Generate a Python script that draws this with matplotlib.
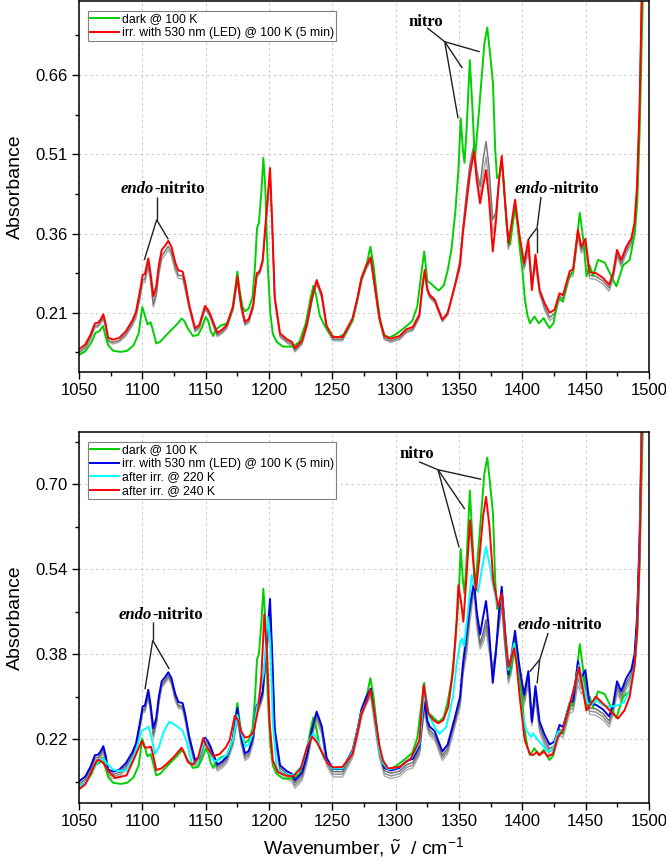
import matplotlib
matplotlib.use('Agg')
import matplotlib.pyplot as plt
from matplotlib.ticker import MultipleLocator, FixedLocator

plt.rcParams['font.family'] = ['Liberation Sans', 'DejaVu Sans']
plt.rcParams['mathtext.fontset'] = 'custom'
plt.rcParams['mathtext.rm'] = 'Liberation Sans'
plt.rcParams['mathtext.it'] = 'Liberation Sans:italic'

# ---------------- data ----------------
# dark @ 100 K (same in both panels)
x_dark = [1050, 1055, 1060, 1063, 1066, 1069, 1071, 1073, 1077, 1083, 1088, 1093, 1097, 1100, 1102,
          1104, 1106.5, 1108, 1111, 1114, 1119, 1124, 1128, 1131, 1133, 1136, 1140, 1144, 1147, 1150,
          1152, 1154, 1156, 1158, 1162, 1167, 1171, 1173, 1175, 1177, 1179, 1181, 1184, 1187, 1189,
          1190.5, 1192, 1194, 1195.5, 1197, 1199, 1201, 1203, 1206, 1211, 1219, 1224, 1229, 1233, 1235,
          1237, 1240, 1244, 1249, 1254, 1260, 1266, 1270, 1273, 1277, 1280, 1282.5, 1285, 1288, 1291,
          1295, 1300, 1306, 1313, 1317, 1320, 1322.5, 1325, 1328, 1331, 1334, 1338, 1341, 1344, 1347,
          1349.5, 1351.3, 1353, 1354.3, 1356, 1358.5, 1360.5, 1362.5, 1365, 1368, 1370, 1372.3, 1374.5,
          1376.8, 1378.5, 1380, 1382, 1383.7, 1385.5, 1387.6, 1390.3, 1392.5, 1394.2, 1396, 1398, 1400,
          1402, 1404, 1406, 1409.5, 1413, 1416.8, 1419, 1421.5, 1424.5, 1428, 1430, 1432, 1436, 1440,
          1443, 1445.3, 1448, 1450.6, 1453, 1455.8, 1459.7, 1465, 1469, 1472, 1474.2, 1479.5, 1484.7,
          1488.7, 1490.7, 1492.5, 1494, 1495.5]
y_dark = [0.130, 0.137, 0.155, 0.172, 0.175, 0.185, 0.165, 0.149, 0.138, 0.136, 0.138, 0.148, 0.170, 0.221, 0.205,
          0.188, 0.192, 0.180, 0.152, 0.155, 0.168, 0.180, 0.190, 0.199, 0.195, 0.180, 0.166, 0.168, 0.182, 0.202,
          0.195, 0.175, 0.166, 0.178, 0.186, 0.190, 0.215, 0.250, 0.288, 0.250, 0.222, 0.213, 0.218, 0.240, 0.300,
          0.370, 0.380, 0.440, 0.503, 0.450, 0.300, 0.210, 0.170, 0.155, 0.146, 0.146, 0.155, 0.190, 0.240, 0.261,
          0.245, 0.205, 0.185, 0.167, 0.163, 0.170, 0.197, 0.240, 0.276, 0.300, 0.335, 0.300, 0.245, 0.190, 0.168,
          0.163, 0.169, 0.180, 0.194, 0.222, 0.280, 0.326, 0.270, 0.265, 0.258, 0.252, 0.262, 0.290, 0.330, 0.400,
          0.480, 0.578, 0.520, 0.494, 0.560, 0.688, 0.600, 0.500, 0.570, 0.660, 0.720, 0.750, 0.700,
          0.644, 0.520, 0.465, 0.470, 0.499, 0.450, 0.373, 0.339, 0.380, 0.411, 0.380, 0.330, 0.290,
          0.235, 0.205, 0.190, 0.203, 0.190, 0.200, 0.190, 0.181, 0.190, 0.235, 0.236, 0.231, 0.272, 0.290,
          0.350, 0.399, 0.350, 0.279, 0.300, 0.280, 0.310, 0.305, 0.285, 0.270, 0.260, 0.300, 0.310,
          0.360, 0.420, 0.550, 0.700, 0.850]

# irr. with 530 nm (LED) @ 100 K (5 min) -- red in top panel, blue in bottom panel
x_irr = [1050, 1055, 1059, 1062.6, 1065, 1067, 1069.2, 1071, 1073, 1077,
         1082, 1087, 1092, 1095, 1098, 1100.3, 1102, 1104.7, 1106.5, 1108.7,
         1111, 1113, 1115.3, 1118, 1120.5, 1123, 1126, 1128.5, 1131.8, 1134,
         1137, 1141.6, 1145, 1149.5, 1152, 1154, 1156, 1159.2, 1163, 1166.6,
         1171.6, 1175, 1178, 1181, 1184, 1187.5, 1190.3, 1192.5, 1195, 1198.2,
         1200.8, 1202.5, 1204.5, 1208.7, 1214, 1218, 1220.5, 1226, 1230, 1234,
         1237.6, 1241.6, 1245.5, 1250.5, 1258, 1266, 1270, 1273, 1276.8, 1280.3,
         1283, 1287, 1291, 1296, 1303, 1308.5, 1313.5, 1318.7, 1321, 1322.9,
         1325, 1326.8, 1330.8, 1336.8, 1341, 1346.6, 1350.8, 1353, 1356, 1358.5,
         1361.8, 1364, 1366.6, 1369, 1371.3, 1373.5, 1376.6, 1379, 1381.5, 1383.7,
         1386, 1389, 1391.5, 1394.2, 1397.5, 1401.3, 1404.7, 1407.5, 1410.3, 1413.6,
         1417.6, 1421.5, 1425.4, 1429.3, 1432, 1437.4, 1440, 1443.9, 1446.5, 1449.7,
         1453, 1458, 1463.7, 1468.4, 1471.6, 1474.7, 1478, 1482, 1486, 1488.5,
         1490.5, 1492.5, 1494.5]
y_irr = [0.141, 0.150, 0.168, 0.190, 0.191, 0.197, 0.207, 0.190, 0.163, 0.159,
         0.163, 0.175, 0.195, 0.212, 0.250, 0.282, 0.283, 0.313, 0.285, 0.241,
         0.260, 0.300, 0.329, 0.337, 0.346, 0.335, 0.305, 0.290, 0.288, 0.265,
         0.225, 0.181, 0.187, 0.223, 0.215, 0.205, 0.192, 0.172, 0.178, 0.187,
         0.222, 0.279, 0.225, 0.193, 0.198, 0.225, 0.285, 0.288, 0.310, 0.405,
         0.484, 0.380, 0.240, 0.171, 0.160, 0.155, 0.143, 0.157, 0.190, 0.240,
         0.272, 0.245, 0.185, 0.164, 0.164, 0.200, 0.240, 0.276, 0.300, 0.315,
         0.270, 0.203, 0.166, 0.161, 0.166, 0.179, 0.183, 0.207, 0.260, 0.291,
         0.255, 0.244, 0.235, 0.197, 0.210, 0.260, 0.300, 0.360, 0.420, 0.470,
         0.515, 0.460, 0.417, 0.450, 0.480, 0.430, 0.326, 0.380, 0.460, 0.507,
         0.430, 0.342, 0.380, 0.424, 0.360, 0.304, 0.348, 0.253, 0.320, 0.253,
         0.228, 0.210, 0.216, 0.247, 0.243, 0.289, 0.292, 0.367, 0.335, 0.350,
         0.287, 0.285, 0.276, 0.263, 0.285, 0.329, 0.310, 0.335, 0.351, 0.380,
         0.450, 0.600, 0.850]

# top panel: intermediate irradiation steps (gray), on x_irr
y_top_gray1 = [0.136, 0.145, 0.163, 0.185, 0.186, 0.192, 0.202, 0.185, 0.158, 0.154,
               0.158, 0.170, 0.189, 0.205, 0.240, 0.272, 0.274, 0.302, 0.275, 0.226,
               0.247, 0.288, 0.318, 0.327, 0.336, 0.325, 0.296, 0.281, 0.280, 0.257,
               0.221, 0.177, 0.183, 0.219, 0.211, 0.201, 0.188, 0.168, 0.174, 0.183,
               0.218, 0.275, 0.221, 0.189, 0.194, 0.221, 0.281, 0.286, 0.306, 0.400,
               0.478, 0.376, 0.236, 0.167, 0.156, 0.151, 0.139, 0.153, 0.186, 0.236,
               0.268, 0.241, 0.181, 0.160, 0.160, 0.196, 0.236, 0.272, 0.296, 0.311,
               0.266, 0.199, 0.162, 0.157, 0.162, 0.175, 0.179, 0.203, 0.256, 0.287,
               0.252, 0.241, 0.232, 0.196, 0.208, 0.262, 0.310, 0.370, 0.440, 0.490,
               0.528, 0.480, 0.449, 0.500, 0.534, 0.490, 0.386, 0.400, 0.460, 0.500,
               0.430, 0.335, 0.370, 0.415, 0.354, 0.298, 0.335, 0.262, 0.308, 0.250,
               0.221, 0.201, 0.209, 0.241, 0.237, 0.283, 0.286, 0.360, 0.329, 0.343,
               0.281, 0.279, 0.270, 0.257, 0.279, 0.322, 0.303, 0.328, 0.345, 0.375,
               0.445, 0.595, 0.845]
y_top_gray2 = [0.133, 0.142, 0.160, 0.182, 0.183, 0.189, 0.199, 0.182, 0.155, 0.151,
               0.155, 0.166, 0.185, 0.200, 0.234, 0.266, 0.268, 0.296, 0.269, 0.221,
               0.241, 0.281, 0.311, 0.320, 0.329, 0.318, 0.289, 0.275, 0.274, 0.251,
               0.218, 0.174, 0.180, 0.216, 0.208, 0.198, 0.185, 0.165, 0.171, 0.180,
               0.215, 0.272, 0.218, 0.186, 0.191, 0.218, 0.278, 0.283, 0.303, 0.396,
               0.472, 0.372, 0.233, 0.164, 0.153, 0.148, 0.136, 0.150, 0.183, 0.233,
               0.265, 0.238, 0.178, 0.157, 0.157, 0.193, 0.233, 0.269, 0.293, 0.308,
               0.263, 0.196, 0.159, 0.154, 0.159, 0.172, 0.176, 0.200, 0.253, 0.283,
               0.249, 0.238, 0.229, 0.193, 0.205, 0.258, 0.305, 0.365, 0.430, 0.480,
               0.522, 0.468, 0.432, 0.470, 0.505, 0.460, 0.360, 0.390, 0.460, 0.500,
               0.430, 0.330, 0.370, 0.410, 0.348, 0.292, 0.325, 0.265, 0.300, 0.245,
               0.215, 0.195, 0.203, 0.235, 0.231, 0.277, 0.280, 0.354, 0.323, 0.337,
               0.275, 0.273, 0.264, 0.251, 0.273, 0.316, 0.297, 0.322, 0.339, 0.370,
               0.440, 0.590, 0.840]

# bottom panel: intermediate warming steps (gray), on x_irr
y_bot_gray1 = [0.136, 0.145, 0.163, 0.185, 0.186, 0.192, 0.202, 0.185, 0.158, 0.154,
               0.158, 0.170, 0.190, 0.207, 0.244, 0.276, 0.277, 0.305, 0.278, 0.230,
               0.252, 0.293, 0.323, 0.331, 0.340, 0.329, 0.299, 0.284, 0.282, 0.259,
               0.221, 0.177, 0.183, 0.219, 0.211, 0.201, 0.188, 0.168, 0.174, 0.183,
               0.216, 0.268, 0.219, 0.188, 0.193, 0.221, 0.281, 0.285, 0.305, 0.395,
               0.465, 0.370, 0.236, 0.166, 0.155, 0.150, 0.138, 0.152, 0.185, 0.235,
               0.265, 0.240, 0.180, 0.159, 0.159, 0.195, 0.235, 0.271, 0.295, 0.310,
               0.265, 0.198, 0.161, 0.156, 0.160, 0.172, 0.176, 0.200, 0.252, 0.283,
               0.248, 0.237, 0.228, 0.190, 0.203, 0.253, 0.290, 0.350, 0.400, 0.460,
               0.510, 0.450, 0.400, 0.420, 0.445, 0.410, 0.350, 0.390, 0.440, 0.480,
               0.410, 0.335, 0.360, 0.400, 0.352, 0.296, 0.338, 0.255, 0.310, 0.245,
               0.220, 0.202, 0.208, 0.239, 0.235, 0.281, 0.284, 0.350, 0.325, 0.340,
               0.279, 0.277, 0.268, 0.255, 0.277, 0.320, 0.302, 0.326, 0.343, 0.373,
               0.445, 0.595, 0.845]
y_bot_gray2 = [0.132, 0.141, 0.159, 0.181, 0.182, 0.188, 0.198, 0.181, 0.154, 0.150,
               0.154, 0.166, 0.186, 0.203, 0.241, 0.273, 0.274, 0.302, 0.275, 0.226,
               0.249, 0.290, 0.320, 0.328, 0.337, 0.326, 0.296, 0.281, 0.279, 0.256,
               0.217, 0.173, 0.179, 0.215, 0.207, 0.197, 0.184, 0.164, 0.170, 0.179,
               0.212, 0.262, 0.215, 0.184, 0.189, 0.217, 0.277, 0.281, 0.300, 0.385,
               0.457, 0.362, 0.232, 0.161, 0.150, 0.145, 0.133, 0.147, 0.180, 0.230,
               0.260, 0.235, 0.175, 0.154, 0.154, 0.190, 0.230, 0.266, 0.290, 0.305,
               0.260, 0.193, 0.156, 0.151, 0.155, 0.167, 0.171, 0.195, 0.247, 0.278,
               0.243, 0.232, 0.223, 0.185, 0.198, 0.248, 0.285, 0.345, 0.390, 0.450,
               0.505, 0.440, 0.395, 0.410, 0.435, 0.400, 0.345, 0.385, 0.435, 0.475,
               0.405, 0.330, 0.355, 0.395, 0.346, 0.290, 0.330, 0.250, 0.302, 0.239,
               0.214, 0.196, 0.202, 0.233, 0.229, 0.275, 0.278, 0.335, 0.315, 0.330,
               0.273, 0.271, 0.262, 0.249, 0.271, 0.313, 0.296, 0.320, 0.337, 0.368,
               0.440, 0.590, 0.840]
y_bot_gray3 = [0.128, 0.137, 0.155, 0.177, 0.178, 0.184, 0.194, 0.177, 0.150, 0.146,
               0.150, 0.162, 0.182, 0.199, 0.238, 0.270, 0.271, 0.299, 0.272, 0.222,
               0.246, 0.287, 0.317, 0.325, 0.334, 0.323, 0.293, 0.278, 0.276, 0.253,
               0.213, 0.169, 0.175, 0.211, 0.203, 0.193, 0.180, 0.160, 0.166, 0.175,
               0.208, 0.256, 0.211, 0.180, 0.185, 0.213, 0.273, 0.277, 0.296, 0.378,
               0.450, 0.355, 0.228, 0.156, 0.145, 0.140, 0.128, 0.142, 0.175, 0.225,
               0.255, 0.230, 0.170, 0.149, 0.149, 0.185, 0.225, 0.261, 0.285, 0.300,
               0.255, 0.188, 0.151, 0.146, 0.150, 0.162, 0.166, 0.190, 0.242, 0.273,
               0.238, 0.227, 0.218, 0.180, 0.193, 0.243, 0.280, 0.340, 0.380, 0.440,
               0.500, 0.430, 0.390, 0.400, 0.425, 0.390, 0.340, 0.380, 0.430, 0.470,
               0.400, 0.325, 0.350, 0.390, 0.340, 0.284, 0.322, 0.245, 0.295, 0.233,
               0.208, 0.190, 0.196, 0.227, 0.223, 0.269, 0.272, 0.322, 0.305, 0.320,
               0.267, 0.265, 0.256, 0.243, 0.265, 0.306, 0.290, 0.314, 0.331, 0.363,
               0.435, 0.585, 0.835]

# after irr. @ 220 K (cyan)
x_220 = [1050, 1055, 1060, 1065, 1069, 1073, 1077, 1080, 1087.5, 1094, 1099.5, 1103.7, 1105, 1107, 1110,
         1113, 1117, 1121.3, 1127, 1131.8, 1135, 1139, 1143, 1146, 1149.5, 1153, 1157, 1161, 1166.6, 1171.6,
         1175, 1178.4, 1181.4, 1184, 1187.5, 1191.5, 1195.8, 1197, 1199, 1201, 1203, 1206, 1211, 1219, 1226,
         1231, 1235, 1239, 1243, 1250, 1258, 1266, 1273, 1277, 1280, 1283, 1287, 1290, 1294, 1303,
         1313, 1318.7, 1322.9, 1326.8, 1330.7, 1334.6, 1339.9, 1345.2, 1348, 1350.8, 1352.5, 1354, 1357, 1360, 1362,
         1365, 1368, 1371.3, 1374, 1377, 1380.7, 1383.7, 1386, 1389, 1393.4, 1396, 1399, 1403, 1407, 1408.4,
         1411, 1413.6, 1416.8, 1420, 1424, 1428, 1432, 1436, 1440, 1444.7, 1447.8, 1451, 1454.3, 1458, 1463.7,
         1469, 1475.5, 1480.5, 1484.7, 1488.7, 1490.7, 1492.5, 1494.5]
y_220 = [0.130, 0.138, 0.160, 0.177, 0.183, 0.172, 0.163, 0.161, 0.161, 0.191, 0.236, 0.241, 0.244, 0.225, 0.192,
         0.205, 0.235, 0.253, 0.245, 0.236, 0.215, 0.175, 0.175, 0.195, 0.219, 0.195, 0.178, 0.182, 0.190, 0.220,
         0.266, 0.229, 0.206, 0.210, 0.232, 0.294, 0.344, 0.380, 0.450, 0.400, 0.250, 0.165, 0.155, 0.152, 0.170,
         0.215, 0.231, 0.215, 0.185, 0.165, 0.165, 0.197, 0.270, 0.290, 0.309, 0.270, 0.200, 0.175, 0.163, 0.168,
         0.187, 0.212, 0.312, 0.261, 0.243, 0.230, 0.243, 0.300, 0.360, 0.400, 0.410, 0.395, 0.460, 0.529, 0.510,
         0.497, 0.540, 0.582, 0.550, 0.507, 0.469, 0.490, 0.430, 0.350, 0.400, 0.350, 0.280, 0.237, 0.224, 0.231,
         0.222, 0.215, 0.206, 0.197, 0.200, 0.234, 0.236, 0.277, 0.309, 0.359, 0.324, 0.290, 0.284, 0.294, 0.284,
         0.281, 0.284, 0.290, 0.312, 0.362, 0.430, 0.560, 0.850]

# after irr. @ 240 K (red, bottom)
x_240 = [1050, 1055, 1060, 1064, 1066, 1069.2, 1073, 1078.6, 1087.5, 1094, 1099.5, 1102, 1103.7, 1106.8, 1108.5,
         1111, 1115, 1119, 1125, 1131, 1133, 1136, 1140, 1144, 1148, 1151, 1156, 1161, 1166, 1169,
         1173, 1175.8, 1178, 1181, 1184, 1187.5, 1191.5, 1194, 1196.3, 1198.5, 1200.5, 1203, 1207, 1213, 1219,
         1225, 1230, 1234, 1237.6, 1241.6, 1246, 1250.5, 1258, 1266, 1273, 1277, 1280, 1283, 1287, 1290,
         1294, 1303, 1312, 1318.7, 1322, 1325.8, 1329.7, 1333.6, 1337.5, 1341.5, 1345.3, 1348, 1349.5, 1351.5, 1353.4,
         1356, 1358.7, 1361, 1363.4, 1366, 1369, 1371.3, 1374, 1377, 1381, 1383.7, 1386, 1389, 1393.4, 1395.5,
         1397.9, 1401.8, 1405.8, 1408.4, 1411.6, 1413.6, 1416.8, 1420, 1424, 1428, 1432, 1436, 1440, 1444.7, 1447.8,
         1450.5, 1453, 1458, 1463.7, 1469, 1475.5, 1480.5, 1484.7, 1488.7, 1490.7, 1492.5, 1494.5]
y_240 = [0.126, 0.135, 0.160, 0.179, 0.181, 0.175, 0.161, 0.147, 0.152, 0.186, 0.217, 0.205, 0.204, 0.206, 0.190,
         0.162, 0.165, 0.173, 0.187, 0.204, 0.195, 0.177, 0.172, 0.185, 0.222, 0.205, 0.188, 0.192, 0.205, 0.219,
         0.264, 0.255, 0.235, 0.223, 0.225, 0.232, 0.276, 0.340, 0.455, 0.380, 0.250, 0.180, 0.158, 0.152, 0.150,
         0.165, 0.205, 0.225, 0.215, 0.196, 0.175, 0.167, 0.168, 0.193, 0.268, 0.290, 0.313, 0.274, 0.210, 0.180,
         0.165, 0.168, 0.184, 0.218, 0.322, 0.268, 0.256, 0.250, 0.256, 0.281, 0.350, 0.440, 0.510, 0.480, 0.441,
         0.530, 0.632, 0.560, 0.500, 0.560, 0.640, 0.676, 0.620, 0.519, 0.469, 0.494, 0.430, 0.356, 0.391, 0.360,
         0.300, 0.219, 0.193, 0.190, 0.196, 0.190, 0.197, 0.188, 0.192, 0.224, 0.237, 0.274, 0.309, 0.356, 0.312,
         0.274, 0.283, 0.300, 0.287, 0.274, 0.259, 0.274, 0.300, 0.362, 0.430, 0.560, 0.850]

labels_top = ['dark @ 100 K', 'irr. with 530 nm (LED) @ 100 K (5 min)']
labels_bot = ['dark @ 100 K', 'irr. with 530 nm (LED) @ 100 K (5 min)',
              'after irr. @ 220 K', 'after irr. @ 240 K']
yticks_top = [0.21, 0.36, 0.51, 0.66]
yticks_bot = [0.22, 0.38, 0.54, 0.70]
xticks = [1050, 1100, 1150, 1200, 1250, 1300, 1350, 1400, 1450, 1500]

# ---------------- drawing ----------------
GREEN = '#00d000'
RED = '#ff0000'
BLUE = '#0000e6'
CYAN = '#00ffff'
LW = 1.4

fig = plt.figure(figsize=(6.66, 8.63), dpi=100)
ax1 = fig.add_axes([0.1186, 0.569, 0.856, 0.4298])
ax2 = fig.add_axes([0.1186, 0.0695, 0.856, 0.4299])

def style(ax, yticks, ylim):
    ax.set_xlim(1050, 1500)
    ax.set_ylim(*ylim)
    ax.set_xticks(xticks)
    ax.xaxis.set_minor_locator(MultipleLocator(25))
    ax.set_yticks(yticks)
    step = yticks[1] - yticks[0]
    minors = [yticks[0] - step / 2 + i * step for i in range(len(yticks) + 1)]
    ax.yaxis.set_minor_locator(FixedLocator(minors))
    ax.set_yticklabels(['%.2f' % v for v in yticks])
    ax.tick_params(which='major', direction='out', length=5, width=1.0, labelsize=12, pad=3)
    ax.tick_params(which='minor', direction='out', length=3, width=1.0)
    ax.grid(True, which='major', linestyle=(0, (2, 3)), color='#c8c8c8', linewidth=0.8)
    ax.set_axisbelow(True)
    for s in ax.spines.values():
        s.set_linewidth(1.1)
    ax.set_ylabel('Absorbance', fontsize=14, labelpad=8)

style(ax1, yticks_top, (0.098, 0.800))
style(ax2, yticks_bot, (0.100, 0.798))

LEG = dict(loc='upper left', bbox_to_anchor=(0.0158, 0.973), borderaxespad=0, fontsize=8.8,
           handlelength=2.3, handletextpad=0.25, labelspacing=0.12, borderpad=0.2,
           fancybox=False, framealpha=1, edgecolor='#808080')

# top panel
ax1.plot(x_irr, y_top_gray2, color='#a8a8a8', lw=1.1)
ax1.plot(x_irr, y_top_gray1, color='#787878', lw=1.1)
l1, = ax1.plot(x_dark, y_dark, color=GREEN, lw=LW)
l2, = ax1.plot(x_irr, y_irr, color=RED, lw=LW)
leg1 = ax1.legend([l1, l2], labels_top, **LEG)
leg1.get_frame().set_linewidth(0.8)

# bottom panel
ax2.plot(x_irr, y_bot_gray3, color='#b0b0b0', lw=1.1)
ax2.plot(x_irr, y_bot_gray2, color='#909090', lw=1.1)
ax2.plot(x_irr, y_bot_gray1, color='#707070', lw=1.1)
m1, = ax2.plot(x_dark, y_dark, color=GREEN, lw=LW)
m2, = ax2.plot(x_irr, y_irr, color=BLUE, lw=LW)
m3, = ax2.plot(x_220, y_220, color=CYAN, lw=LW)
m4, = ax2.plot(x_240, y_240, color=RED, lw=LW)
leg2 = ax2.legend([m1, m2, m3, m4], labels_bot, **LEG)
leg2.get_frame().set_linewidth(0.8)
ax2.set_xlabel('Wavenumber, $\\tilde{\\nu}$  / cm$^{-1}$', fontsize=14, labelpad=4)

# annotations
SERIF = ['Liberation Serif', 'DejaVu Serif']

def label_endo(ax, x, y):
    t1 = ax.text(x, y, 'endo', ha='right', va='baseline', fontsize=12, family=SERIF,
                 fontweight='bold', fontstyle='italic')
    ax.annotate('-nitrito', xy=(1, 0), xycoords=t1, ha='left', va='bottom', fontsize=12,
                family=SERIF, fontweight='bold')

def lines(ax, segs):
    for (xa, ya), (xb, yb) in segs:
        ax.plot([xa, xb], [ya, yb], color='#202020', lw=1.0, solid_capstyle='butt')

# top
ax1.text(1324, 0.761, 'nitro', ha='center', va='center', fontsize=12, family=SERIF, fontweight='bold')
lines(ax1, [((1325, 0.749), (1338.7, 0.723)), ((1338.7, 0.723), (1349.2, 0.578)),
            ((1338.7, 0.723), (1352.6, 0.673)), ((1338.7, 0.723), (1366.3, 0.704))])
label_endo(ax1, 1109.5, 0.437)
lines(ax1, [((1111.3, 0.429), (1111.3, 0.386)), ((1111.3, 0.386), (1101.6, 0.310)),
            ((1111.3, 0.386), (1120.5, 0.349))])
label_endo(ax1, 1420.5, 0.437)
lines(ax1, [((1414.7, 0.429), (1411.6, 0.371)), ((1411.6, 0.371), (1404.5, 0.348)),
            ((1411.6, 0.371), (1411.6, 0.323))])

# bottom
ax2.text(1316.3, 0.756, 'nitro', ha='center', va='center', fontsize=12, family=SERIF, fontweight='bold')
lines(ax2, [((1318.4, 0.742), (1333.4, 0.727)), ((1333.4, 0.727), (1350, 0.581)),
            ((1333.4, 0.727), (1354.5, 0.653)), ((1333.4, 0.727), (1367.6, 0.709))])
label_endo(ax2, 1107.8, 0.446)
lines(ax2, [((1108.2, 0.440), (1108.2, 0.406)), ((1108.2, 0.406), (1102.1, 0.314)),
            ((1108.2, 0.406), (1121.3, 0.352))])
label_endo(ax2, 1422.8, 0.427)
lines(ax2, [((1420.3, 0.420), (1413.7, 0.370)), ((1413.7, 0.370), (1405.8, 0.347)),
            ((1413.7, 0.370), (1411.6, 0.325))])

fig.savefig('out.png', dpi=100)
